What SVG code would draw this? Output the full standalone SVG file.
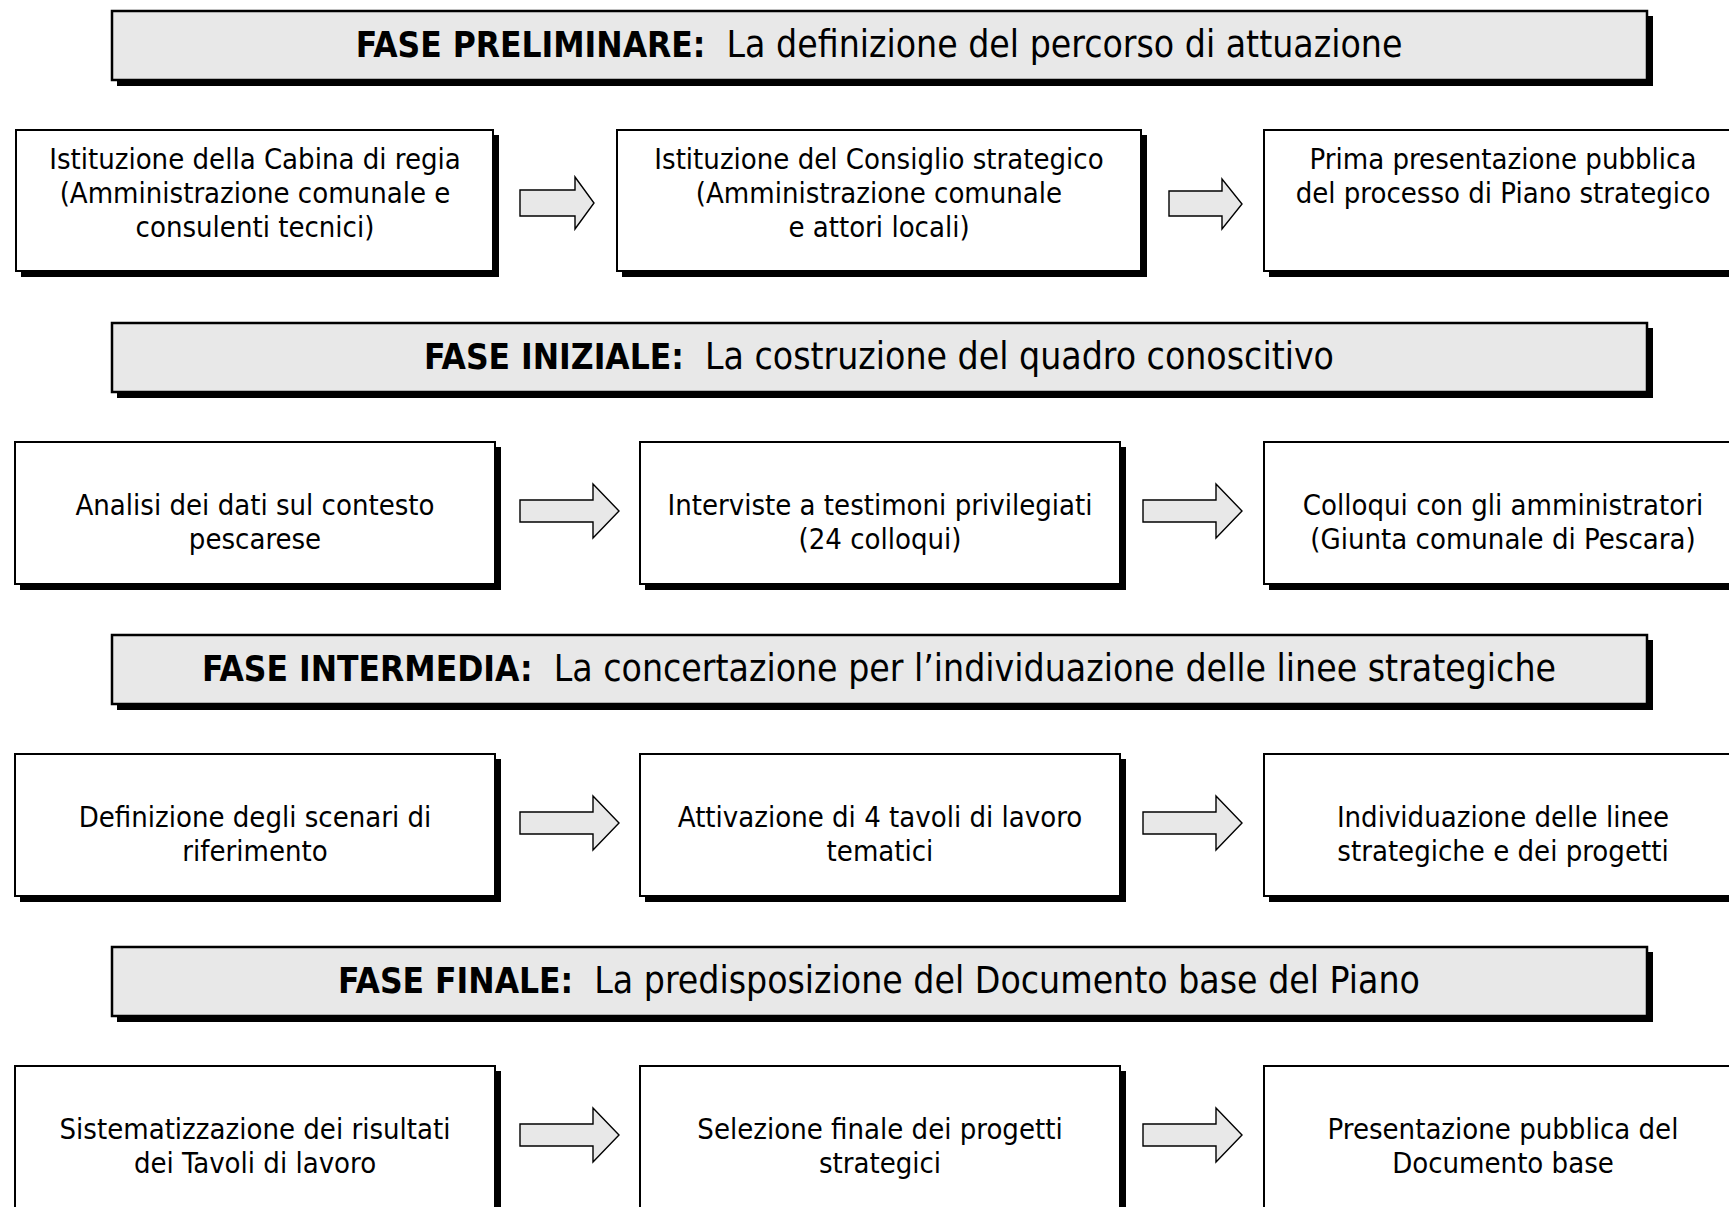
<svg xmlns="http://www.w3.org/2000/svg" width="1729" height="1207" viewBox="0 0 1729 1207">
<style>
.hdr{fill:#e8e8e8;stroke:#000;stroke-width:2.5}
.box{fill:#fff;stroke:#000;stroke-width:2}
.sh{fill:#000}
.arr{fill:#e8e8e8;stroke:#000;stroke-width:1.4;stroke-linejoin:miter}
text{font-family:"DejaVu Sans Condensed","DejaVu Sans",sans-serif;fill:#000}
.ht{font-size:37px;text-anchor:middle}
.ht .b{font-weight:bold;font-size:35px}
.nt{font-size:29px;text-anchor:middle}
</style>
<rect width="1729" height="1207" fill="#fff"/>

<!-- Headers -->
<g id="h1"><rect class="sh" x="117" y="16" width="1536" height="70"/><rect class="hdr" x="112" y="11" width="1535" height="69"/>
<text class="ht" x="879" y="57"><tspan class="b">FASE PRELIMINARE:</tspan>&#160; La definizione del percorso di attuazione</text></g>
<g id="h2"><rect class="sh" x="117" y="328" width="1536" height="70"/><rect class="hdr" x="112" y="323" width="1535" height="69"/>
<text class="ht" x="879" y="369"><tspan class="b">FASE INIZIALE:</tspan>&#160; La costruzione del quadro conoscitivo</text></g>
<g id="h3"><rect class="sh" x="117" y="640" width="1536" height="70"/><rect class="hdr" x="112" y="635" width="1535" height="69"/>
<text class="ht" x="879" y="681"><tspan class="b">FASE INTERMEDIA:</tspan>&#160; La concertazione per l’individuazione delle linee strategiche</text></g>
<g id="h4"><rect class="sh" x="117" y="952" width="1536" height="70"/><rect class="hdr" x="112" y="947" width="1535" height="69"/>
<text class="ht" x="879" y="993"><tspan class="b">FASE FINALE:</tspan>&#160; La predisposizione del Documento base del Piano</text></g>

<!-- Row 1 -->
<g id="n11"><rect class="sh" x="21" y="135" width="478" height="142"/><rect class="box" x="16" y="130" width="477" height="141"/>
<text class="nt" x="255" y="169">Istituzione della Cabina di regia</text><text class="nt" x="255" y="203">(Amministrazione comunale e</text><text class="nt" x="255" y="237">consulenti tecnici)</text></g>
<g id="n12"><rect class="sh" x="622" y="135" width="525" height="142"/><rect class="box" x="617" y="130" width="524" height="141"/>
<text class="nt" x="879" y="169">Istituzione del Consiglio strategico</text><text class="nt" x="879" y="203">(Amministrazione comunale</text><text class="nt" x="879" y="237">e attori locali)</text></g>
<g id="n13"><rect class="sh" x="1269" y="135" width="480" height="142"/><rect class="box" x="1264" y="130" width="480" height="141"/>
<text class="nt" x="1503" y="169">Prima presentazione pubblica</text><text class="nt" x="1503" y="203">del processo di Piano strategico</text></g>

<!-- Row 2 -->
<g id="n21"><rect class="sh" x="20" y="447" width="481" height="143"/><rect class="box" x="15" y="442" width="480" height="142"/>
<text class="nt" x="255" y="515">Analisi dei dati sul contesto</text><text class="nt" x="255" y="549">pescarese</text></g>
<g id="n22"><rect class="sh" x="645" y="447" width="481" height="143"/><rect class="box" x="640" y="442" width="480" height="142"/>
<text class="nt" x="880" y="515">Interviste a testimoni privilegiati</text><text class="nt" x="880" y="549">(24 colloqui)</text></g>
<g id="n23"><rect class="sh" x="1269" y="447" width="480" height="143"/><rect class="box" x="1264" y="442" width="480" height="142"/>
<text class="nt" x="1503" y="515">Colloqui con gli amministratori</text><text class="nt" x="1503" y="549">(Giunta comunale di Pescara)</text></g>

<!-- Row 3 -->
<g id="n31"><rect class="sh" x="20" y="759" width="481" height="143"/><rect class="box" x="15" y="754" width="480" height="142"/>
<text class="nt" x="255" y="827">Definizione degli scenari di</text><text class="nt" x="255" y="861">riferimento</text></g>
<g id="n32"><rect class="sh" x="645" y="759" width="481" height="143"/><rect class="box" x="640" y="754" width="480" height="142"/>
<text class="nt" x="880" y="827">Attivazione di 4 tavoli di lavoro</text><text class="nt" x="880" y="861">tematici</text></g>
<g id="n33"><rect class="sh" x="1269" y="759" width="480" height="143"/><rect class="box" x="1264" y="754" width="480" height="142"/>
<text class="nt" x="1503" y="827">Individuazione delle linee</text><text class="nt" x="1503" y="861">strategiche e dei progetti</text></g>

<!-- Row 4 -->
<g id="n41"><rect class="sh" x="20" y="1071" width="481" height="160"/><rect class="box" x="15" y="1066" width="480" height="160"/>
<text class="nt" x="255" y="1139">Sistematizzazione dei risultati</text><text class="nt" x="255" y="1173">dei Tavoli di lavoro</text></g>
<g id="n42"><rect class="sh" x="645" y="1071" width="481" height="160"/><rect class="box" x="640" y="1066" width="480" height="160"/>
<text class="nt" x="880" y="1139">Selezione finale dei progetti</text><text class="nt" x="880" y="1173">strategici</text></g>
<g id="n43"><rect class="sh" x="1269" y="1071" width="480" height="160"/><rect class="box" x="1264" y="1066" width="480" height="160"/>
<text class="nt" x="1503" y="1139">Presentazione pubblica del</text><text class="nt" x="1503" y="1173">Documento base</text></g>

<!-- Connectors -->
<g id="connectors">
<path class="arr" d="M520,190 H575 V177 L594,203 L575,229 V216 H520 Z"/>
<path class="arr" d="M1169,191 H1222 V179 L1242,204 L1222,229 V216 H1169 Z"/>
<path class="arr" d="M520,500 H593 V484 L619,511 L593,538 V522 H520 Z"/>
<path class="arr" d="M1143,500 H1216 V484 L1242,511 L1216,538 V522 H1143 Z"/>
<path class="arr" d="M520,812 H593 V796 L619,823 L593,850 V834 H520 Z"/>
<path class="arr" d="M1143,812 H1216 V796 L1242,823 L1216,850 V834 H1143 Z"/>
<path class="arr" d="M520,1124 H593 V1108 L619,1135 L593,1162 V1146 H520 Z"/>
<path class="arr" d="M1143,1124 H1216 V1108 L1242,1135 L1216,1162 V1146 H1143 Z"/>
</g>
</svg>
